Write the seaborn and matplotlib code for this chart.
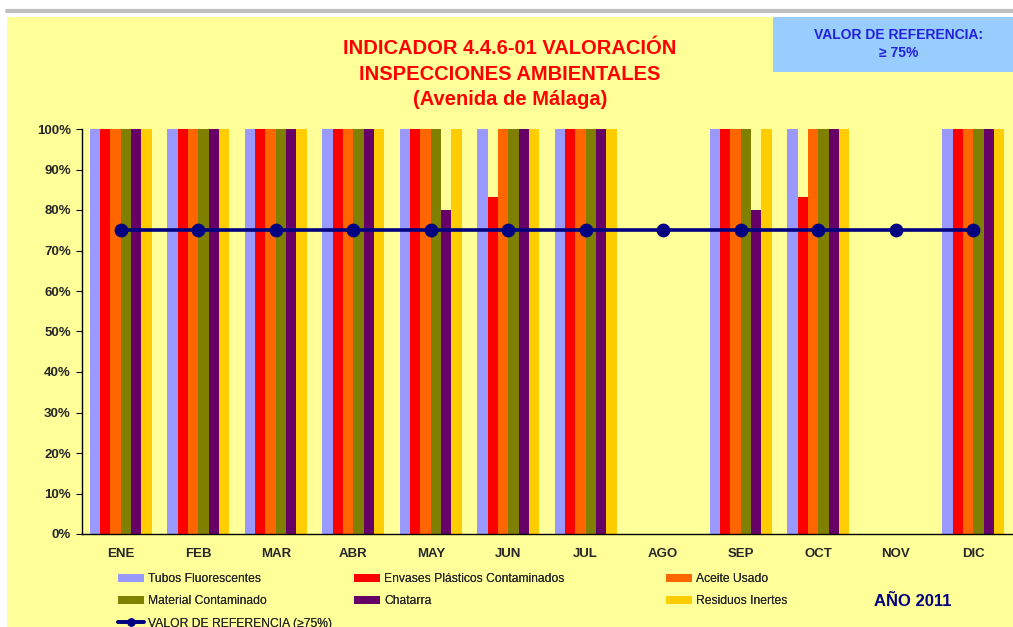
import numpy as np
import pandas as pd
import seaborn as sns
import matplotlib.pyplot as plt
from matplotlib.patches import Patch, Rectangle
from matplotlib.lines import Line2D
from matplotlib.ticker import PercentFormatter, MultipleLocator, FixedLocator

# datos del indicador (fraccion 0-1)
meses = ["ENE", "FEB", "MAR", "ABR", "MAY", "JUN", "JUL", "AGO", "SEP", "OCT", "NOV", "DIC"]
tubos = [1, 1, 1, 1, 1, 1, 1, 0, 1, 1, 0, 1]
envases = [1, 1, 1, 1, 1, 0.833, 1, 0, 1, 0.833, 0, 1]
aceite = [1, 1, 1, 1, 1, 1, 1, 0, 1, 1, 0, 1]
material = [1, 1, 1, 1, 1, 1, 1, 0, 1, 1, 0, 1]
chatarra = [1, 1, 1, 1, 0.8, 1, 1, 0, 0.8, 1, 0, 1]
residuos = [1, 1, 1, 1, 1, 1, 1, 0, 1, 1, 0, 1]
referencia = [0.75, 0.75, 0.75, 0.75, 0.75, 0.75, 0.75, 0.75, 0.75, 0.75, 0.75, 0.75]

series = ["Tubos Fluorescentes", "Envases Plásticos Contaminados", "Aceite Usado",
          "Material Contaminado", "Chatarra", "Residuos Inertes"]
colores = ["#9999FF", "#FF0000", "#FF6600", "#808000", "#660066", "#FFCC00"]
ref_label = "VALOR DE REFERENCIA (≥75%)"

df = pd.DataFrame({"mes": meses, series[0]: tubos, series[1]: envases, series[2]: aceite,
                   series[3]: material, series[4]: chatarra, series[5]: residuos})
df = df.melt(id_vars="mes", var_name="residuo", value_name="valor")

sns.set_style("white")
plt.rcParams['font.family'] = ['Liberation Sans', 'DejaVu Sans']

fondo = "#FFFF99"
fig = plt.figure(figsize=(10.13, 6.27), dpi=100)
fig.patch.set_facecolor("white")
# panel amarillo y linea gris superior
fig.patches.append(Rectangle((7 / 1013, 0), 1, 1 - 17 / 627, transform=fig.transFigure,
                             facecolor=fondo, edgecolor="none", zorder=-2))
fig.add_artist(Line2D([7 / 1013, 1], [1 - 11 / 627, 1 - 11 / 627], transform=fig.transFigure,
                      color="#C0C0C0", lw=3))

ax = fig.add_axes([82 / 1013, 1 - 534 / 627, 930 / 1013, 405 / 627])
ax.set_facecolor(fondo)

sns.barplot(data=df, x="mes", y="valor", hue="residuo", order=meses, hue_order=series,
            palette=colores, saturation=1, width=0.8, linewidth=0, legend=False, ax=ax)
sns.pointplot(x=meses, y=referencia, order=meses, color="#000080", markers="o",
              markersize=8, linewidth=2.6, ax=ax)

ax.set_ylim(0, 1)
ax.set_xlim(-0.5, 11.5)
ax.yaxis.set_major_locator(MultipleLocator(0.1))
ax.yaxis.set_major_formatter(PercentFormatter(1, decimals=0))
ax.set_xlabel("")
ax.set_ylabel("")
for s in ["top", "right"]:
    ax.spines[s].set_visible(False)
for s in ["left", "bottom"]:
    ax.spines[s].set_color("black")
    ax.spines[s].set_linewidth(1)
ax.xaxis.set_minor_locator(FixedLocator(np.arange(-0.5, 12, 1)))
ax.tick_params(axis="x", which="major", length=0, pad=10, labelsize=9.5)
ax.tick_params(axis="x", which="minor", length=5, color="black", direction="out")
ax.tick_params(axis="y", length=4, color="black", direction="out", pad=4, labelsize=9.5, left=True)
for lab in ax.get_xticklabels() + ax.get_yticklabels():
    lab.set_fontweight("bold")

# titulo
fig.text(510 / 1013, 1 - 74 / 627,
         "INDICADOR 4.4.6-01 VALORACIÓN\nINSPECCIONES AMBIENTALES\n(Avenida de Málaga)",
         ha="center", va="center", color="#FF0000", fontsize=14.5, fontweight="bold",
         linespacing=1.45)

# recuadro valor de referencia
fig.patches.append(Rectangle((773 / 1013, 1 - 72 / 627), 240 / 1013, 55 / 627,
                             transform=fig.transFigure, facecolor="#99CCFF",
                             edgecolor="none", zorder=-1))
fig.text(899 / 1013, 1 - 44 / 627, "VALOR DE REFERENCIA:\n≥ 75%", ha="center", va="center",
         color="#2222DD", fontsize=10, fontweight="bold", linespacing=1.3)

fig.text(913 / 1013, 1 - 602 / 627, "AÑO 2011", ha="center", va="center",
         color="#000080", fontsize=12, fontweight="bold")

# leyenda en tres columnas
h = [Patch(facecolor=c, edgecolor="none") for c in colores]
h_ref = Line2D([], [], color="#000080", lw=2.6, marker="o", markersize=5)
columnas = [
    (118, [h[0], h[3], h_ref], [series[0], series[3], ref_label]),
    (354, [h[1], h[4]], [series[1], series[4]]),
    (666, [h[2], h[5]], [series[2], series[5]]),
]
for x0, hh, ll in columnas:
    leg = fig.legend(hh, ll, loc="upper left", bbox_to_anchor=(x0 / 1013, 1 - 573 / 627),
                     frameon=False, fontsize=8.7, handlelength=2.15, handleheight=0.6,
                     handletextpad=0.33, labelspacing=0.85, borderaxespad=0, borderpad=0)
    fig.add_artist(leg)

fig.savefig("out.png", dpi=100, facecolor=fig.get_facecolor())
